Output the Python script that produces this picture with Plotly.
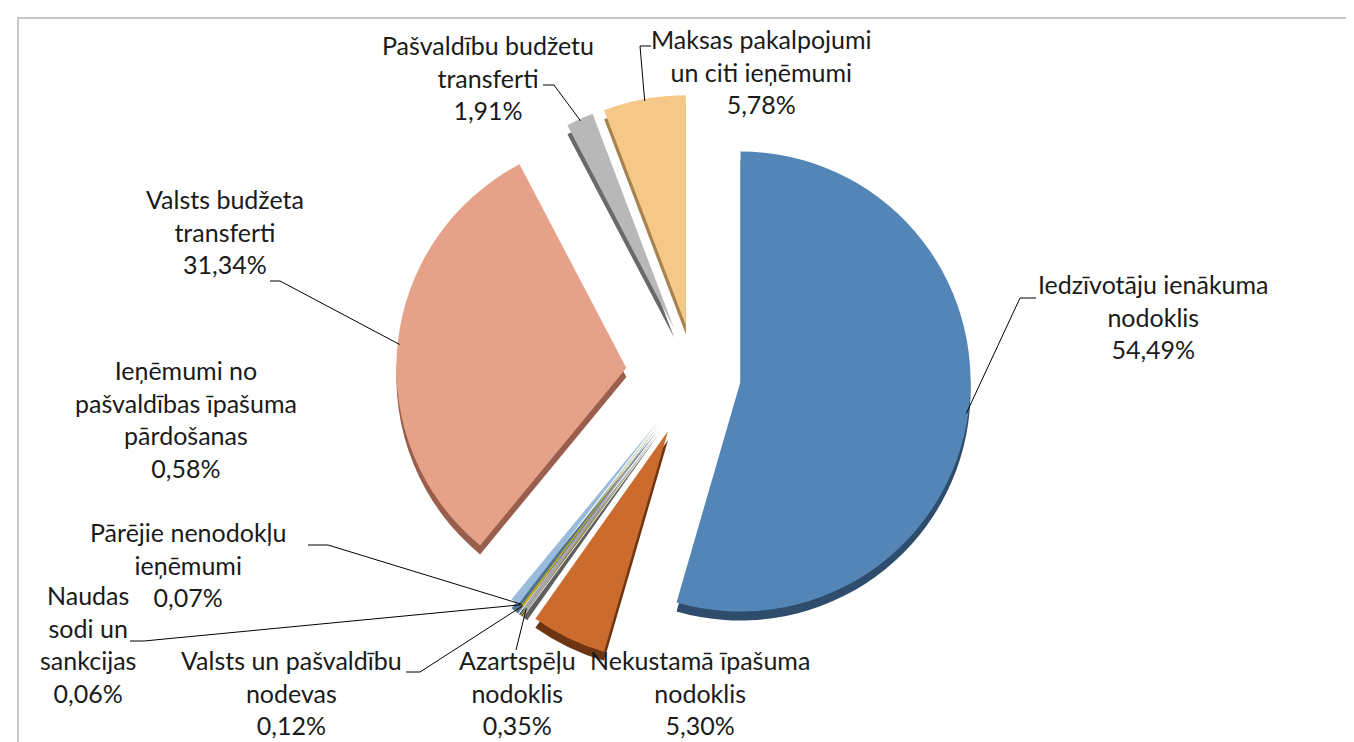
import numpy as np
import plotly.graph_objects as go

# ---- data ----
labels = [
    "Iedzīvotāju ienākuma nodoklis",
    "Nekustamā īpašuma nodoklis",
    "Azartspēļu nodoklis",
    "Valsts un pašvaldību nodevas",
    "Naudas sodi un sankcijas",
    "Pārējie nenodokļu ieņēmumi",
    "Ieņēmumi no pašvaldības īpašuma pārdošanas",
    "Valsts budžeta transferti",
    "Pašvaldību budžetu transferti",
    "Maksas pakalpojumi un citi ieņēmumi",
]
values = [54.49, 5.30, 0.35, 0.12, 0.06, 0.07, 0.58, 31.34, 1.91, 5.78]
label_text = [
    "Iedzīvotāju ienākuma<br>nodoklis<br>54,49%",
    "Nekustamā īpašuma<br>nodoklis<br>5,30%",
    "Azartspēļu<br>nodoklis<br>0,35%",
    "Valsts un pašvaldību<br>nodevas<br>0,12%",
    "Naudas<br>sodi un<br>sankcijas<br>0,06%",
    "Pārējie nenodokļu<br>ieņēmumi<br>0,07%",
    "Ieņēmumi no<br>pašvaldības īpašuma<br>pārdošanas<br>0,58%",
    "Valsts budžeta<br>transferti<br>31,34%",
    "Pašvaldību budžetu<br>transferti<br>1,91%",
    "Maksas pakalpojumi<br>un citi ieņēmumi<br>5,78%",
]

# ---- styles / layout ----
colors = ["#5386B7", "#CB6B2E", "#A5A5A5", "#E0AE10", "#6F9A4B", "#3F6B9A",
          "#9BBBDD", "#E6A189", "#B8B8B8", "#F5C887"]
dark = ["#2E4C6B", "#6E3512", "#5F5F5F", "#7A5E05", "#3C5628", "#223B57",
        "#587590", "#9A5F4C", "#6A6A6A", "#A6834F"]
pulls = [0.20, 0.27, 0.26, 0.26, 0.26, 0.26, 0.26, 0.30, 0.22, 0.22]

W, H = 1354, 742
cx, cy, R = 687, 367, 230
DEPTH = 9
mp = max(pulls)
half = R * (1 + mp)

def dom(shift=0):
    return dict(x=[(cx - half) / W, (cx + half) / W],
                y=[1 - (cy + shift + half) / H, 1 - (cy + shift - half) / H])

# text centre positions (px) and leader start/elbow (px)
text_pos = [(1145, 308), (692, 684), (509, 684), (283, 684), (80, 636),
            (180, 556), (178, 411), (217, 223), (480, 69), (753, 64)]
leaders = [((1028, 290), (1012, 290)), None, ((508, 642), (508, 642)),
           ((398, 664), (412, 664)), ((122, 633), (136, 633)),
           ((300, 537), (320, 537)), None, ((262, 273), (272, 273)),
           ((535, 77), (546, 77)), ((643, 38), (632, 38))]

fig = go.Figure()
fig.add_trace(go.Pie(labels=labels, values=values, sort=False, direction="clockwise",
                     rotation=0, pull=pulls, marker=dict(colors=dark, line=dict(width=0)),
                     textinfo="none", hoverinfo="skip", domain=dom(DEPTH), showlegend=False))
fig.add_trace(go.Pie(labels=labels, values=values, sort=False, direction="clockwise",
                     rotation=0, pull=pulls, marker=dict(colors=colors, line=dict(width=0)),
                     textinfo="none", domain=dom(0), showlegend=False))

# tips on slice outer arcs derived from values
vals = np.array(values)
cum = np.cumsum(vals) / vals.sum() * 2 * np.pi
mids = cum - vals / vals.sum() * np.pi

annotations = []
shapes = []
for i, lab in enumerate(label_text):
    tx, ty = text_pos[i]
    annotations.append(dict(x=tx / W, y=1 - ty / H, xref="paper", yref="paper",
                            text=lab, showarrow=False, xanchor="center", yanchor="middle",
                            font=dict(family="Lato, Carlito, sans-serif", size=25, color="#1A1A1A")))
    if leaders[i] is not None:
        (sx, sy), (ex, ey) = leaders[i]
        d = R * (1 + pulls[i]) - 2
        px = cx + d * np.sin(mids[i])
        py = cy - d * np.cos(mids[i])
        path = f"M {sx/W},{1-sy/H} L {ex/W},{1-ey/H} L {px/W},{1-py/H}"
        shapes.append(dict(type="path", xref="paper", yref="paper", path=path,
                           line=dict(color="#000000", width=1)))

shapes.append(dict(type="rect", xref="paper", yref="paper",
                   x0=10 / W, y0=-0.05, x1=1.05, y1=1 - 10 / H,
                   line=dict(color="#C8C8C8", width=2)))

fig.update_layout(width=W, height=H, margin=dict(l=0, r=0, t=0, b=0),
                  paper_bgcolor="white", plot_bgcolor="white",
                  annotations=annotations, shapes=shapes)
fig.write_html("out.html")
